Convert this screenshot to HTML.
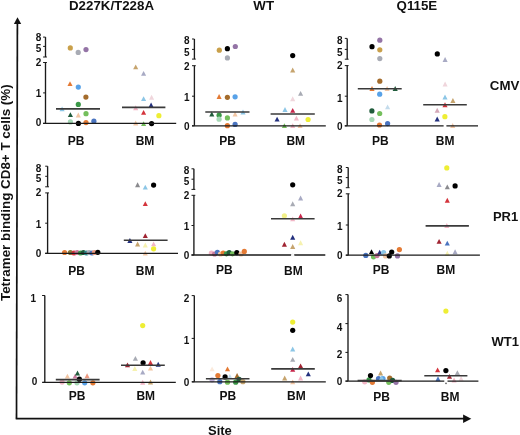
<!DOCTYPE html>
<html><head><meta charset="utf-8"><style>
html,body{margin:0;padding:0;background:#fff;}
svg{display:block;will-change:transform;filter:blur(0.3px);}
text{font-family:"Liberation Sans",sans-serif;fill:#111;}
</style></head><body>
<svg width="520" height="435" viewBox="0 0 520 435">
<rect width="520" height="435" fill="#fff"/>
<circle cx="70.3" cy="47.9" r="2.6" fill="#c9a04a"/>
<circle cx="78.2" cy="52.4" r="2.6" fill="#a8abb4"/>
<circle cx="86" cy="49.6" r="2.6" fill="#9474a6"/>
<path d="M70.00 81.20L72.55 86.10L67.45 86.10Z" fill="#e47a34"/>
<circle cx="78.3" cy="87.1" r="2.6" fill="#58a2e8"/>
<circle cx="85.9" cy="97.1" r="2.6" fill="#a46c2c"/>
<circle cx="78.3" cy="104.4" r="2.6" fill="#3b9848"/>
<path d="M62.10 106.40L64.65 111.30L59.55 111.30Z" fill="#8cc6e6"/>
<path d="M70.40 112.20L72.95 117.10L67.85 117.10Z" fill="#205c3c"/>
<path d="M78.30 112.50L80.85 117.40L75.75 117.40Z" fill="#f2c6a4"/>
<circle cx="86" cy="113.7" r="2.6" fill="#74bf5c"/>
<circle cx="70.4" cy="121.9" r="2.6" fill="#a6d8b6"/>
<circle cx="78.4" cy="123.4" r="2.6" fill="#000000"/>
<circle cx="86" cy="122.6" r="2.6" fill="#e47a34"/>
<circle cx="93.9" cy="121.2" r="2.6" fill="#4a74c0"/>
<path d="M135.70 64.40L138.25 69.30L133.15 69.30Z" fill="#c6a46e"/>
<path d="M143.60 70.90L146.15 75.80L141.05 75.80Z" fill="#a8aac4"/>
<path d="M143.60 96.20L146.15 101.10L141.05 101.10Z" fill="#8cc6e6"/>
<path d="M151.60 94.80L154.15 99.70L149.05 99.70Z" fill="#f0d6dc"/>
<path d="M151.10 102.60L153.65 107.50L148.55 107.50Z" fill="#23307e"/>
<path d="M135.70 105.30L138.25 110.20L133.15 110.20Z" fill="#f2b6c6"/>
<path d="M143.60 109.90L146.15 114.80L141.05 114.80Z" fill="#d4343c"/>
<circle cx="158.9" cy="115.7" r="2.6" fill="#eeee34"/>
<path d="M135.70 120.50L138.25 125.40L133.15 125.40Z" fill="#f2c6a4"/>
<path d="M143.60 121.20L146.15 126.10L141.05 126.10Z" fill="#74bf5c"/>
<circle cx="151.6" cy="123.6" r="2.6" fill="#000000"/>
<circle cx="219.3" cy="50.2" r="2.6" fill="#c9a04a"/>
<circle cx="227.4" cy="48.7" r="2.6" fill="#000000"/>
<circle cx="235.3" cy="46.5" r="2.6" fill="#9474a6"/>
<circle cx="227.4" cy="57.9" r="2.6" fill="#a8abb4"/>
<path d="M219.10 94.00L221.65 98.90L216.55 98.90Z" fill="#e47a34"/>
<circle cx="227.4" cy="97.3" r="2.6" fill="#a46c2c"/>
<circle cx="235.1" cy="96.8" r="2.6" fill="#58a2e8"/>
<path d="M211.80 111.50L214.35 116.40L209.25 116.40Z" fill="#205c3c"/>
<circle cx="219.1" cy="115.2" r="2.6" fill="#3b9848"/>
<circle cx="219.1" cy="119.2" r="2.6" fill="#a6d8b6"/>
<circle cx="227.4" cy="117.9" r="2.6" fill="#74bf5c"/>
<path d="M235.10 111.50L237.65 116.40L232.55 116.40Z" fill="#f2c6a4"/>
<path d="M243.00 109.60L245.55 114.50L240.45 114.50Z" fill="#8cc6e6"/>
<circle cx="227.4" cy="125.7" r="2.6" fill="#e47a34"/>
<circle cx="235.1" cy="124.4" r="2.6" fill="#4a74c0"/>
<circle cx="292.7" cy="55.6" r="2.6" fill="#000000"/>
<path d="M292.70 67.50L295.25 72.40L290.15 72.40Z" fill="#c6a46e"/>
<path d="M300.60 90.90L303.15 95.80L298.05 95.80Z" fill="#a8abb4"/>
<path d="M292.70 96.30L295.25 101.20L290.15 101.20Z" fill="#f0d6dc"/>
<path d="M285.00 107.00L287.55 111.90L282.45 111.90Z" fill="#8cc6e6"/>
<path d="M292.70 107.90L295.25 112.80L290.15 112.80Z" fill="#c8284c"/>
<path d="M277.10 116.70L279.65 121.60L274.55 121.60Z" fill="#23307e"/>
<path d="M296.40 115.70L298.95 120.60L293.85 120.60Z" fill="#f2b6c6"/>
<circle cx="308.1" cy="119.5" r="2.6" fill="#eeee34"/>
<path d="M284.40 123.20L286.95 128.10L281.85 128.10Z" fill="#74bf5c"/>
<path d="M292.70 123.20L295.25 128.10L290.15 128.10Z" fill="#f2b6c6"/>
<path d="M300.10 123.20L302.65 128.10L297.55 128.10Z" fill="#f2c6a4"/>
<circle cx="379.8" cy="40.2" r="2.6" fill="#9474a6"/>
<circle cx="372" cy="46.7" r="2.6" fill="#000000"/>
<circle cx="379.8" cy="49.8" r="2.6" fill="#c9a04a"/>
<circle cx="379.8" cy="58.6" r="2.6" fill="#a8abb4"/>
<circle cx="379.8" cy="81.2" r="2.6" fill="#a46c2c"/>
<path d="M372.00 86.00L374.55 90.90L369.45 90.90Z" fill="#e47a34"/>
<path d="M387.10 86.00L389.65 90.90L384.55 90.90Z" fill="#f2c6a4"/>
<path d="M395.20 86.00L397.75 90.90L392.65 90.90Z" fill="#205c3c"/>
<circle cx="379.7" cy="94.2" r="2.6" fill="#58a2e8"/>
<path d="M387.60 104.40L390.15 109.30L385.05 109.30Z" fill="#c4dcec"/>
<circle cx="371.9" cy="110.9" r="2.6" fill="#205c3c"/>
<circle cx="379.7" cy="113.5" r="2.6" fill="#74bf5c"/>
<circle cx="371.9" cy="119.5" r="2.6" fill="#a6d8b6"/>
<circle cx="387.6" cy="123.6" r="2.6" fill="#4a74c0"/>
<circle cx="379.5" cy="125" r="2.6" fill="#e47a34"/>
<circle cx="437.3" cy="53.9" r="2.6" fill="#000000"/>
<path d="M445.10 57.00L447.65 61.90L442.55 61.90Z" fill="#a8aac4"/>
<path d="M445.10 81.50L447.65 86.40L442.55 86.40Z" fill="#f0d6dc"/>
<path d="M445.00 94.50L447.55 99.40L442.45 99.40Z" fill="#8cc6e6"/>
<path d="M452.90 98.00L455.45 102.90L450.35 102.90Z" fill="#c6a46e"/>
<path d="M445.00 102.30L447.55 107.20L442.45 107.20Z" fill="#d4343c"/>
<path d="M437.20 107.80L439.75 112.70L434.65 112.70Z" fill="#d4a8b8"/>
<circle cx="444.9" cy="116.7" r="2.6" fill="#eeee34"/>
<path d="M437.20 116.60L439.75 121.50L434.65 121.50Z" fill="#23307e"/>
<path d="M452.70 123.10L455.25 128.00L450.15 128.00Z" fill="#f2c6a4"/>
<circle cx="64.6" cy="252.5" r="2.6" fill="#e47a34"/>
<circle cx="70.4" cy="252.5" r="2.6" fill="#8a7a3a"/>
<circle cx="74" cy="253" r="2.6" fill="#d4343c"/>
<circle cx="77.1" cy="252.5" r="2.6" fill="#c8789c"/>
<circle cx="80.5" cy="253" r="2.6" fill="#3b9848"/>
<circle cx="83.4" cy="252.5" r="2.6" fill="#205c3c"/>
<circle cx="86.5" cy="253" r="2.6" fill="#2c8a8c"/>
<circle cx="89.1" cy="252.5" r="2.6" fill="#a8abb4"/>
<circle cx="92" cy="253" r="2.6" fill="#4a74c0"/>
<circle cx="94.4" cy="252.5" r="2.6" fill="#ec9a82"/>
<circle cx="97.8" cy="252.3" r="2.6" fill="#000000"/>
<path d="M137.60 182.30L140.15 187.20L135.05 187.20Z" fill="#8a8a8e"/>
<path d="M145.30 184.70L147.85 189.60L142.75 189.60Z" fill="#8cc6e6"/>
<circle cx="153.6" cy="185.1" r="2.6" fill="#000000"/>
<path d="M145.30 201.20L147.85 206.10L142.75 206.10Z" fill="#d4343c"/>
<path d="M145.30 233.20L147.85 238.10L142.75 238.10Z" fill="#a02432"/>
<path d="M129.90 238.00L132.45 242.90L127.35 242.90Z" fill="#23307e"/>
<path d="M137.60 241.60L140.15 246.50L135.05 246.50Z" fill="#c6a46e"/>
<path d="M145.30 242.60L147.85 247.50L142.75 247.50Z" fill="#f6f2b0"/>
<path d="M153.60 241.40L156.15 246.30L151.05 246.30Z" fill="#f2b6c6"/>
<circle cx="153.6" cy="248.8" r="2.6" fill="#eeee34"/>
<path d="M145.30 250.70L147.85 255.60L142.75 255.60Z" fill="#f2c6a4"/>
<circle cx="211.4" cy="253.2" r="2.6" fill="#f2b6c6"/>
<circle cx="214.6" cy="254" r="2.6" fill="#c8789c"/>
<circle cx="217.4" cy="252.3" r="2.6" fill="#4a74c0"/>
<circle cx="220.5" cy="254" r="2.6" fill="#f6c8a0"/>
<circle cx="223.2" cy="253.1" r="2.6" fill="#e47a34"/>
<circle cx="226.4" cy="253.8" r="2.6" fill="#3b9848"/>
<circle cx="229.2" cy="252.7" r="2.6" fill="#205c3c"/>
<circle cx="232.5" cy="253.8" r="2.6" fill="#74bf5c"/>
<circle cx="236.8" cy="252.7" r="2.6" fill="#000000"/>
<circle cx="241" cy="254" r="2.6" fill="#f2c6a4"/>
<circle cx="244.3" cy="251.4" r="2.6" fill="#e47a34"/>
<circle cx="292.7" cy="184.8" r="2.6" fill="#000000"/>
<path d="M300.60 195.50L303.15 200.40L298.05 200.40Z" fill="#a8aac4"/>
<path d="M292.70 201.30L295.25 206.20L290.15 206.20Z" fill="#a8abb4"/>
<circle cx="284.4" cy="215.8" r="2.6" fill="#f2f088"/>
<path d="M300.60 213.60L303.15 218.50L298.05 218.50Z" fill="#c8284c"/>
<path d="M292.70 216.40L295.25 221.30L290.15 221.30Z" fill="#f2b6c6"/>
<path d="M292.70 234.80L295.25 239.70L290.15 239.70Z" fill="#23307e"/>
<path d="M284.40 241.80L286.95 246.70L281.85 246.70Z" fill="#a02432"/>
<path d="M292.70 244.00L295.25 248.90L290.15 248.90Z" fill="#c6a46e"/>
<path d="M300.60 240.30L303.15 245.20L298.05 245.20Z" fill="#f6f2b0"/>
<circle cx="365.8" cy="255.4" r="2.6" fill="#4a74c0"/>
<path d="M371.50 249.20L374.05 254.10L368.95 254.10Z" fill="#000000"/>
<circle cx="373.5" cy="256.8" r="2.6" fill="#74bf5c"/>
<circle cx="377" cy="255.6" r="2.6" fill="#c8789c"/>
<path d="M379.70 249.70L382.25 254.60L377.15 254.60Z" fill="#23307e"/>
<circle cx="383.6" cy="252.5" r="2.6" fill="#8cc6e6"/>
<circle cx="385.5" cy="255.9" r="2.6" fill="#f2c6a4"/>
<circle cx="389.3" cy="255.9" r="2.6" fill="#000000"/>
<circle cx="391.7" cy="252" r="2.6" fill="#000000"/>
<circle cx="397.5" cy="255.9" r="2.6" fill="#9474a6"/>
<circle cx="399.4" cy="249.6" r="2.6" fill="#e47a34"/>
<circle cx="446.8" cy="167.9" r="2.6" fill="#eeee34"/>
<path d="M439.10 182.00L441.65 186.90L436.55 186.90Z" fill="#a8aac4"/>
<path d="M447.30 184.40L449.85 189.30L444.75 189.30Z" fill="#8a8a8e"/>
<circle cx="455.1" cy="185.9" r="2.6" fill="#000000"/>
<path d="M447.30 197.80L449.85 202.70L444.75 202.70Z" fill="#d4343c"/>
<path d="M446.80 223.10L449.35 228.00L444.25 228.00Z" fill="#f2b6c6"/>
<path d="M439.10 238.90L441.65 243.80L436.55 243.80Z" fill="#a02432"/>
<path d="M447.30 240.70L449.85 245.60L444.75 245.60Z" fill="#4a74c0"/>
<path d="M455.10 249.30L457.65 254.20L452.55 254.20Z" fill="#a8aac4"/>
<path d="M447.30 250.80L449.85 255.70L444.75 255.70Z" fill="#f6f2b0"/>
<path d="M67.40 373.70L69.95 378.60L64.85 378.60Z" fill="#f2c6a4"/>
<path d="M75.10 373.70L77.65 378.60L72.55 378.60Z" fill="#c8789c"/>
<path d="M77.50 370.60L80.05 375.50L74.95 375.50Z" fill="#205c3c"/>
<path d="M87.10 373.30L89.65 378.20L84.55 378.20Z" fill="#ec9a82"/>
<circle cx="62.1" cy="382.1" r="2.6" fill="#f2b6c6"/>
<circle cx="69.3" cy="382.8" r="2.6" fill="#74bf5c"/>
<circle cx="77" cy="382.8" r="2.6" fill="#a6d8b6"/>
<circle cx="84.7" cy="382.8" r="2.6" fill="#58a2e8"/>
<circle cx="92.9" cy="382.8" r="2.6" fill="#e47a34"/>
<circle cx="79.4" cy="379.2" r="2.6" fill="#000000"/>
<circle cx="142.7" cy="325.6" r="2.6" fill="#eeee34"/>
<path d="M135.40 355.90L137.95 360.80L132.85 360.80Z" fill="#a8abb4"/>
<circle cx="143.1" cy="362.8" r="2.6" fill="#000000"/>
<path d="M150.50 360.00L153.05 364.90L147.95 364.90Z" fill="#d4343c"/>
<path d="M127.50 362.40L130.05 367.30L124.95 367.30Z" fill="#a02432"/>
<path d="M158.20 361.80L160.75 366.70L155.65 366.70Z" fill="#23307e"/>
<path d="M134.80 366.10L137.35 371.00L132.25 371.00Z" fill="#f6f2b0"/>
<path d="M150.50 365.70L153.05 370.60L147.95 370.60Z" fill="#f2c6a4"/>
<path d="M142.70 369.70L145.25 374.60L140.15 374.60Z" fill="#a8aac4"/>
<path d="M142.70 379.80L145.25 384.70L140.15 384.70Z" fill="#f2b6c6"/>
<path d="M150.50 379.50L153.05 384.40L147.95 384.40Z" fill="#c6a46e"/>
<path d="M212.10 366.40L214.65 371.30L209.55 371.30Z" fill="#fbeadc"/>
<path d="M227.50 366.40L230.05 371.30L224.95 371.30Z" fill="#e47a34"/>
<circle cx="217.9" cy="375.5" r="2.6" fill="#e47a34"/>
<circle cx="225.1" cy="376.9" r="2.6" fill="#000000"/>
<path d="M229.90 374.10L232.45 379.00L227.35 379.00Z" fill="#c4dcec"/>
<path d="M237.10 373.10L239.65 378.00L234.55 378.00Z" fill="#a46c2c"/>
<circle cx="212.1" cy="379.8" r="2.6" fill="#c0b0d8"/>
<circle cx="219.8" cy="381.7" r="2.6" fill="#4a74c0"/>
<circle cx="227.5" cy="382.2" r="2.6" fill="#74bf5c"/>
<circle cx="235.7" cy="382.2" r="2.6" fill="#3b9848"/>
<circle cx="239.1" cy="379.3" r="2.6" fill="#205c3c"/>
<circle cx="242.9" cy="381.7" r="2.6" fill="#c6a46e"/>
<circle cx="292.7" cy="322.1" r="2.6" fill="#eeee34"/>
<circle cx="292.7" cy="330.3" r="2.6" fill="#000000"/>
<path d="M292.70 346.50L295.25 351.40L290.15 351.40Z" fill="#8cc6e6"/>
<path d="M292.70 356.90L295.25 361.80L290.15 361.80Z" fill="#a8abb4"/>
<path d="M300.60 363.40L303.15 368.30L298.05 368.30Z" fill="#a02432"/>
<path d="M292.70 366.90L295.25 371.80L290.15 371.80Z" fill="#c8284c"/>
<path d="M308.30 371.40L310.85 376.30L305.75 376.30Z" fill="#23307e"/>
<path d="M284.70 375.50L287.25 380.40L282.15 380.40Z" fill="#c6a46e"/>
<path d="M300.60 375.50L303.15 380.40L298.05 380.40Z" fill="#f2b6c6"/>
<path d="M292.70 379.40L295.25 384.30L290.15 384.30Z" fill="#f2c6a4"/>
<circle cx="364.7" cy="381.8" r="2.6" fill="#f2b6c6"/>
<circle cx="369" cy="379.9" r="2.6" fill="#3b9848"/>
<circle cx="372.4" cy="382.3" r="2.6" fill="#e47a34"/>
<circle cx="370.5" cy="375.6" r="2.6" fill="#000000"/>
<circle cx="378.5" cy="378.5" r="2.6" fill="#4a74c0"/>
<circle cx="383" cy="378.5" r="2.6" fill="#58a2e8"/>
<path d="M380.60 370.60L383.15 375.50L378.05 375.50Z" fill="#c6a46e"/>
<path d="M381.50 375.20L384.05 380.10L378.95 380.10Z" fill="#8cc6e6"/>
<circle cx="389.7" cy="378" r="2.6" fill="#a46c2c"/>
<circle cx="388.8" cy="382.3" r="2.6" fill="#74bf5c"/>
<circle cx="392.6" cy="380.4" r="2.6" fill="#205c3c"/>
<circle cx="396" cy="382.3" r="2.6" fill="#9474a6"/>
<circle cx="445.9" cy="311.1" r="2.6" fill="#eeee34"/>
<path d="M437.60 367.40L440.15 372.30L435.05 372.30Z" fill="#d4343c"/>
<circle cx="445.9" cy="370.6" r="2.6" fill="#000000"/>
<path d="M457.40 370.20L459.95 375.10L454.85 375.10Z" fill="#a8abb4"/>
<path d="M449.50 373.90L452.05 378.80L446.95 378.80Z" fill="#a02432"/>
<path d="M438.00 376.30L440.55 381.20L435.45 381.20Z" fill="#4a74c0"/>
<path d="M454.10 377.50L456.65 382.40L451.55 382.40Z" fill="#f2b6c6"/>
<path d="M461.10 376.10L463.65 381.00L458.55 381.00Z" fill="#f0d6dc"/>
<line x1="45.5" y1="62.5" x2="45.5" y2="123.4" stroke="#1a1a1a" stroke-width="1.35"/>
<line x1="43.1" y1="62.5" x2="46.9" y2="62.5" stroke="#1a1a1a" stroke-width="1.0"/>
<line x1="45.5" y1="37.1" x2="45.5" y2="57.0" stroke="#1a1a1a" stroke-width="1.35"/>
<line x1="43.1" y1="37.1" x2="45.5" y2="37.1" stroke="#1a1a1a" stroke-width="1.0"/>
<line x1="43.1" y1="46.4" x2="45.5" y2="46.4" stroke="#1a1a1a" stroke-width="1.0"/>
<line x1="43.1" y1="57.0" x2="46.9" y2="57.0" stroke="#1a1a1a" stroke-width="1.0"/>
<text x="41.2" y="40.7" font-size="10" text-anchor="end" font-weight="bold">8</text>
<text x="41.2" y="51.6" font-size="10" text-anchor="end" font-weight="bold">5</text>
<text x="41.2" y="65.5" font-size="10" text-anchor="end" font-weight="bold">2</text>
<line x1="43.1" y1="92.9" x2="45.5" y2="92.9" stroke="#1a1a1a" stroke-width="1.0"/>
<text x="41.2" y="97.4" font-size="10" text-anchor="end" font-weight="bold">1</text>
<line x1="43.1" y1="123.4" x2="45.5" y2="123.4" stroke="#1a1a1a" stroke-width="1.0"/>
<text x="41.2" y="126.4" font-size="10" text-anchor="end" font-weight="bold">0</text>
<line x1="43.1" y1="123.4" x2="176.2" y2="123.4" stroke="#1a1a1a" stroke-width="1.3"/>
<line x1="56" y1="108.9" x2="100" y2="108.9" stroke="#3a3a3a" stroke-width="1.6"/>
<line x1="122" y1="107.4" x2="165.4" y2="107.4" stroke="#3a3a3a" stroke-width="1.6"/>
<line x1="194.4" y1="65.7" x2="194.4" y2="125.8" stroke="#1a1a1a" stroke-width="1.35"/>
<line x1="192.0" y1="65.7" x2="195.8" y2="65.7" stroke="#1a1a1a" stroke-width="1.0"/>
<line x1="194.4" y1="39" x2="194.4" y2="59.1" stroke="#1a1a1a" stroke-width="1.35"/>
<line x1="192.0" y1="39" x2="194.4" y2="39" stroke="#1a1a1a" stroke-width="1.0"/>
<line x1="192.0" y1="49.4" x2="194.4" y2="49.4" stroke="#1a1a1a" stroke-width="1.0"/>
<line x1="192.0" y1="59.1" x2="195.8" y2="59.1" stroke="#1a1a1a" stroke-width="1.0"/>
<text x="189.6" y="44.1" font-size="10" text-anchor="end" font-weight="bold">8</text>
<text x="189.6" y="56.4" font-size="10" text-anchor="end" font-weight="bold">5</text>
<text x="189.6" y="69.9" font-size="10" text-anchor="end" font-weight="bold">2</text>
<line x1="192.0" y1="96.2" x2="194.4" y2="96.2" stroke="#1a1a1a" stroke-width="1.0"/>
<text x="189.6" y="101.2" font-size="10" text-anchor="end" font-weight="bold">1</text>
<line x1="192.0" y1="125.8" x2="194.4" y2="125.8" stroke="#1a1a1a" stroke-width="1.0"/>
<text x="189.6" y="129.9" font-size="10" text-anchor="end" font-weight="bold">0</text>
<line x1="192.0" y1="125.8" x2="325.8" y2="125.8" stroke="#1a1a1a" stroke-width="1.3"/>
<line x1="205.3" y1="112" x2="249.5" y2="112" stroke="#3a3a3a" stroke-width="1.6"/>
<line x1="270.6" y1="114" x2="314.8" y2="114" stroke="#3a3a3a" stroke-width="1.6"/>
<line x1="347.2" y1="65.6" x2="347.2" y2="125.8" stroke="#1a1a1a" stroke-width="1.35"/>
<line x1="344.8" y1="65.6" x2="348.59999999999997" y2="65.6" stroke="#1a1a1a" stroke-width="1.0"/>
<line x1="347.2" y1="38.4" x2="347.2" y2="59.2" stroke="#1a1a1a" stroke-width="1.35"/>
<line x1="344.8" y1="38.4" x2="347.2" y2="38.4" stroke="#1a1a1a" stroke-width="1.0"/>
<line x1="344.8" y1="49.4" x2="347.2" y2="49.4" stroke="#1a1a1a" stroke-width="1.0"/>
<line x1="344.8" y1="59.2" x2="348.59999999999997" y2="59.2" stroke="#1a1a1a" stroke-width="1.0"/>
<text x="342.5" y="43.5" font-size="10" text-anchor="end" font-weight="bold">8</text>
<text x="342.5" y="56.1" font-size="10" text-anchor="end" font-weight="bold">5</text>
<text x="342.5" y="69.2" font-size="10" text-anchor="end" font-weight="bold">2</text>
<line x1="344.8" y1="96.2" x2="347.2" y2="96.2" stroke="#1a1a1a" stroke-width="1.0"/>
<text x="342.5" y="101.8" font-size="10" text-anchor="end" font-weight="bold">1</text>
<line x1="344.8" y1="125.8" x2="347.2" y2="125.8" stroke="#1a1a1a" stroke-width="1.0"/>
<text x="342.5" y="129.9" font-size="10" text-anchor="end" font-weight="bold">0</text>
<line x1="344.8" y1="125.8" x2="478" y2="125.8" stroke="#1a1a1a" stroke-width="1.3"/>
<line x1="357.8" y1="88.8" x2="401.7" y2="88.8" stroke="#3a3a3a" stroke-width="1.6"/>
<line x1="423.2" y1="104.8" x2="466.8" y2="104.8" stroke="#3a3a3a" stroke-width="1.6"/>
<line x1="47.6" y1="192.9" x2="47.6" y2="253.3" stroke="#1a1a1a" stroke-width="1.35"/>
<line x1="45.2" y1="192.9" x2="49.0" y2="192.9" stroke="#1a1a1a" stroke-width="1.0"/>
<line x1="47.6" y1="166.2" x2="47.6" y2="186.8" stroke="#1a1a1a" stroke-width="1.35"/>
<line x1="45.2" y1="166.2" x2="47.6" y2="166.2" stroke="#1a1a1a" stroke-width="1.0"/>
<line x1="45.2" y1="176.3" x2="47.6" y2="176.3" stroke="#1a1a1a" stroke-width="1.0"/>
<line x1="45.2" y1="186.8" x2="49.0" y2="186.8" stroke="#1a1a1a" stroke-width="1.0"/>
<text x="41.2" y="171.7" font-size="10" text-anchor="end" font-weight="bold">8</text>
<text x="41.2" y="182.3" font-size="10" text-anchor="end" font-weight="bold">5</text>
<text x="41.2" y="195.6" font-size="10" text-anchor="end" font-weight="bold">2</text>
<line x1="45.2" y1="223.2" x2="47.6" y2="223.2" stroke="#1a1a1a" stroke-width="1.0"/>
<text x="41.2" y="228.2" font-size="10" text-anchor="end" font-weight="bold">1</text>
<line x1="45.2" y1="253.3" x2="47.6" y2="253.3" stroke="#1a1a1a" stroke-width="1.0"/>
<text x="41.2" y="256.6" font-size="10" text-anchor="end" font-weight="bold">0</text>
<line x1="45.2" y1="253.3" x2="178" y2="253.3" stroke="#1a1a1a" stroke-width="1.3"/>
<line x1="123.8" y1="240.3" x2="167.6" y2="240.3" stroke="#3a3a3a" stroke-width="1.6"/>
<line x1="193.9" y1="195.3" x2="193.9" y2="255" stroke="#1a1a1a" stroke-width="1.35"/>
<line x1="191.5" y1="195.3" x2="195.3" y2="195.3" stroke="#1a1a1a" stroke-width="1.0"/>
<line x1="193.9" y1="168.8" x2="193.9" y2="189.4" stroke="#1a1a1a" stroke-width="1.35"/>
<line x1="191.5" y1="168.8" x2="193.9" y2="168.8" stroke="#1a1a1a" stroke-width="1.0"/>
<line x1="191.5" y1="179.2" x2="193.9" y2="179.2" stroke="#1a1a1a" stroke-width="1.0"/>
<line x1="191.5" y1="189.4" x2="195.3" y2="189.4" stroke="#1a1a1a" stroke-width="1.0"/>
<text x="189.3" y="173.8" font-size="10" text-anchor="end" font-weight="bold">8</text>
<text x="189.3" y="185.1" font-size="10" text-anchor="end" font-weight="bold">5</text>
<text x="189.3" y="198.6" font-size="10" text-anchor="end" font-weight="bold">2</text>
<line x1="191.5" y1="225.5" x2="193.9" y2="225.5" stroke="#1a1a1a" stroke-width="1.0"/>
<text x="189.3" y="230.3" font-size="10" text-anchor="end" font-weight="bold">1</text>
<line x1="191.5" y1="255" x2="193.9" y2="255" stroke="#1a1a1a" stroke-width="1.0"/>
<text x="189.3" y="258.6" font-size="10" text-anchor="end" font-weight="bold">0</text>
<line x1="191.5" y1="255" x2="325.3" y2="255" stroke="#1a1a1a" stroke-width="1.3"/>
<line x1="271" y1="218.8" x2="314.6" y2="218.8" stroke="#3a3a3a" stroke-width="1.6"/>
<line x1="348.2" y1="193.8" x2="348.2" y2="255.2" stroke="#1a1a1a" stroke-width="1.35"/>
<line x1="345.8" y1="193.8" x2="349.59999999999997" y2="193.8" stroke="#1a1a1a" stroke-width="1.0"/>
<line x1="348.2" y1="167.5" x2="348.2" y2="187.7" stroke="#1a1a1a" stroke-width="1.35"/>
<line x1="345.8" y1="167.5" x2="348.2" y2="167.5" stroke="#1a1a1a" stroke-width="1.0"/>
<line x1="345.8" y1="177.6" x2="348.2" y2="177.6" stroke="#1a1a1a" stroke-width="1.0"/>
<line x1="345.8" y1="187.7" x2="349.59999999999997" y2="187.7" stroke="#1a1a1a" stroke-width="1.0"/>
<text x="342.5" y="173.2" font-size="10" text-anchor="end" font-weight="bold">8</text>
<text x="342.5" y="184.2" font-size="10" text-anchor="end" font-weight="bold">5</text>
<text x="342.5" y="197.2" font-size="10" text-anchor="end" font-weight="bold">2</text>
<line x1="345.8" y1="225" x2="348.2" y2="225" stroke="#1a1a1a" stroke-width="1.0"/>
<text x="342.5" y="229.6" font-size="10" text-anchor="end" font-weight="bold">1</text>
<line x1="345.8" y1="255.2" x2="348.2" y2="255.2" stroke="#1a1a1a" stroke-width="1.0"/>
<text x="342.5" y="259.4" font-size="10" text-anchor="end" font-weight="bold">0</text>
<line x1="345.8" y1="255.2" x2="479.9" y2="255.2" stroke="#1a1a1a" stroke-width="1.3"/>
<line x1="425.6" y1="225.9" x2="468.9" y2="225.9" stroke="#3a3a3a" stroke-width="1.6"/>
<line x1="44.8" y1="295.5" x2="44.8" y2="382.4" stroke="#1a1a1a" stroke-width="1.35"/>
<line x1="42.199999999999996" y1="295.5" x2="44.8" y2="295.5" stroke="#1a1a1a" stroke-width="1.0"/>
<text x="36.0" y="301.6" font-size="10" text-anchor="end" font-weight="bold">1</text>
<line x1="42.199999999999996" y1="382.4" x2="44.8" y2="382.4" stroke="#1a1a1a" stroke-width="1.0"/>
<text x="37.3" y="385.2" font-size="10" text-anchor="end" font-weight="bold">0</text>
<line x1="42.3" y1="295.5" x2="44.8" y2="295.5" stroke="#1a1a1a" stroke-width="1.0"/>
<line x1="42.4" y1="382.4" x2="175.8" y2="382.4" stroke="#1a1a1a" stroke-width="1.3"/>
<line x1="55.8" y1="379.6" x2="99.6" y2="379.6" stroke="#3a3a3a" stroke-width="1.6"/>
<line x1="121" y1="365.2" x2="164.8" y2="365.2" stroke="#3a3a3a" stroke-width="1.6"/>
<line x1="194.3" y1="295.6" x2="194.3" y2="381.8" stroke="#1a1a1a" stroke-width="1.35"/>
<line x1="191.70000000000002" y1="295.6" x2="194.3" y2="295.6" stroke="#1a1a1a" stroke-width="1.0"/>
<text x="189.4" y="302.1" font-size="10" text-anchor="end" font-weight="bold">2</text>
<line x1="191.70000000000002" y1="338.4" x2="194.3" y2="338.4" stroke="#1a1a1a" stroke-width="1.0"/>
<text x="189.4" y="344.3" font-size="10" text-anchor="end" font-weight="bold">1</text>
<line x1="191.70000000000002" y1="381.8" x2="194.3" y2="381.8" stroke="#1a1a1a" stroke-width="1.0"/>
<text x="189.4" y="386.0" font-size="10" text-anchor="end" font-weight="bold">0</text>
<line x1="191.9" y1="381.8" x2="325.8" y2="381.8" stroke="#1a1a1a" stroke-width="1.3"/>
<line x1="205.9" y1="378.8" x2="249.5" y2="378.8" stroke="#3a3a3a" stroke-width="1.6"/>
<line x1="271.2" y1="368.9" x2="314.8" y2="368.9" stroke="#3a3a3a" stroke-width="1.6"/>
<line x1="348" y1="294.6" x2="348" y2="381.1" stroke="#1a1a1a" stroke-width="1.35"/>
<line x1="345.4" y1="294.6" x2="348" y2="294.6" stroke="#1a1a1a" stroke-width="1.0"/>
<text x="342.3" y="302.0" font-size="10" text-anchor="end" font-weight="bold">6</text>
<line x1="345.4" y1="323.6" x2="348" y2="323.6" stroke="#1a1a1a" stroke-width="1.0"/>
<text x="342.3" y="331.0" font-size="10" text-anchor="end" font-weight="bold">4</text>
<line x1="345.4" y1="352.4" x2="348" y2="352.4" stroke="#1a1a1a" stroke-width="1.0"/>
<text x="342.3" y="358.2" font-size="10" text-anchor="end" font-weight="bold">2</text>
<line x1="345.4" y1="381.1" x2="348" y2="381.1" stroke="#1a1a1a" stroke-width="1.0"/>
<text x="342.3" y="385.3" font-size="10" text-anchor="end" font-weight="bold">0</text>
<line x1="345.6" y1="381.1" x2="478.4" y2="381.1" stroke="#1a1a1a" stroke-width="1.3"/>
<line x1="357.6" y1="380.6" x2="401.7" y2="380.6" stroke="#3a3a3a" stroke-width="1.6"/>
<line x1="424.3" y1="375.7" x2="467.4" y2="375.7" stroke="#3a3a3a" stroke-width="1.6"/>
<rect x="443.6" y="124.4" width="2.8" height="3" fill="#fff"/>
<rect x="291.3" y="253.6" width="2.9" height="3" fill="#fff"/>
<path d="M292.7 252.6L294.6 256.2L290.8 256.2Z" fill="#f4f4f4"/>
<rect x="444.3" y="379.9" width="3.2" height="3" fill="#fff"/>
<circle cx="446" cy="383.4" r="0.8" fill="#555"/>
<line x1="17.4" y1="22" x2="16.5" y2="418.4" stroke="#111" stroke-width="1.7"/>
<line x1="15.7" y1="418.7" x2="464" y2="418.7" stroke="#111" stroke-width="1.7"/>
<path d="M17.5 17.2L21.2 24L13.9 24Z" fill="#111"/>
<path d="M471.3 418.7L463.1 414.5L463.1 422.9Z" fill="#111"/>
<text x="111.5" y="9.6" font-size="13.3" text-anchor="middle" font-weight="bold">D227K/T228A</text>
<text x="263.7" y="9.6" font-size="13.3" text-anchor="middle" font-weight="bold">WT</text>
<text x="416.9" y="9.6" font-size="13.3" text-anchor="middle" font-weight="bold">Q115E</text>
<text x="504.6" y="90.2" font-size="13.3" text-anchor="middle" font-weight="bold">CMV</text>
<text x="505.6" y="220.6" font-size="13" text-anchor="middle" font-weight="bold">PR1</text>
<text x="505.2" y="346.2" font-size="13" text-anchor="middle" font-weight="bold">WT1</text>
<text x="76.2" y="145" font-size="12" text-anchor="middle" font-weight="bold">PB</text>
<text x="227.6" y="144.8" font-size="12" text-anchor="middle" font-weight="bold">PB</text>
<text x="380.4" y="145.2" font-size="12" text-anchor="middle" font-weight="bold">PB</text>
<text x="76.7" y="274.7" font-size="12" text-anchor="middle" font-weight="bold">PB</text>
<text x="224.4" y="274.4" font-size="12" text-anchor="middle" font-weight="bold">PB</text>
<text x="381.2" y="274.4" font-size="12" text-anchor="middle" font-weight="bold">PB</text>
<text x="77" y="399.8" font-size="12" text-anchor="middle" font-weight="bold">PB</text>
<text x="227.9" y="399.9" font-size="12" text-anchor="middle" font-weight="bold">PB</text>
<text x="381.5" y="400.8" font-size="12" text-anchor="middle" font-weight="bold">PB</text>
<text x="145" y="145" font-size="12" text-anchor="middle" font-weight="bold">BM</text>
<text x="295.8" y="145" font-size="12" text-anchor="middle" font-weight="bold">BM</text>
<text x="445.1" y="145.2" font-size="12" text-anchor="middle" font-weight="bold">BM</text>
<text x="145.1" y="274.8" font-size="12" text-anchor="middle" font-weight="bold">BM</text>
<text x="293.4" y="274.7" font-size="12" text-anchor="middle" font-weight="bold">BM</text>
<text x="445.9" y="274.2" font-size="12" text-anchor="middle" font-weight="bold">BM</text>
<text x="145.8" y="399.7" font-size="12" text-anchor="middle" font-weight="bold">BM</text>
<text x="296.4" y="400" font-size="12" text-anchor="middle" font-weight="bold">BM</text>
<text x="450.1" y="400.6" font-size="12" text-anchor="middle" font-weight="bold">BM</text>
<text x="219.9" y="434.7" font-size="13" text-anchor="middle" font-weight="bold">Site</text>
<text transform="translate(9.9,192.7) rotate(-90)" font-size="13.4" text-anchor="middle" font-weight="bold">Tetramer binding CD8+ T cells (%)</text>
</svg>
</body></html>
